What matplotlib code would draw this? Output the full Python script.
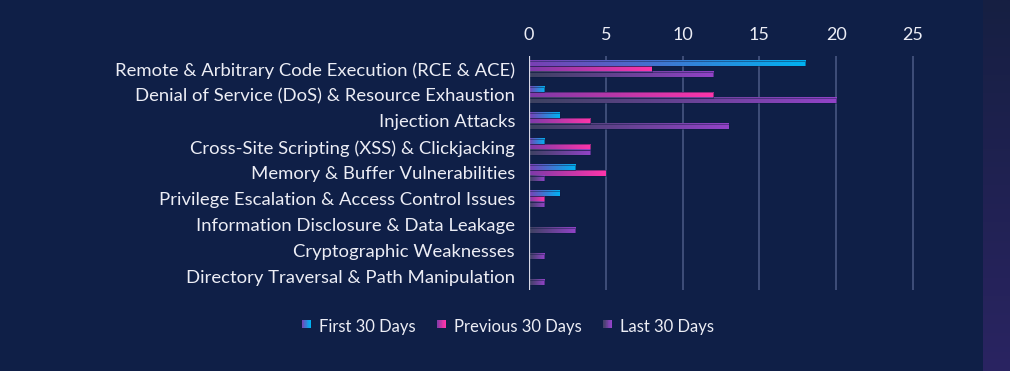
import matplotlib
matplotlib.use('Agg')
import matplotlib.pyplot as plt
import numpy as np
from matplotlib.colors import LinearSegmentedColormap
from matplotlib.legend_handler import HandlerBase
from matplotlib.patches import Rectangle

categories = [
    'Remote & Arbitrary Code Execution (RCE & ACE)',
    'Denial of Service (DoS) & Resource Exhaustion',
    'Injection Attacks',
    'Cross-Site Scripting (XSS) & Clickjacking',
    'Memory & Buffer Vulnerabilities',
    'Privilege Escalation & Access Control Issues',
    'Information Disclosure & Data Leakage',
    'Cryptographic Weaknesses',
    'Directory Traversal & Path Manipulation',
]
first_30 = [18, 1, 2, 1, 3, 2, 0, 0, 0]
previous_30 = [8, 12, 4, 4, 5, 1, 0, 0, 0]
last_30 = [12, 20, 13, 4, 1, 1, 3, 1, 1]
series_names = ['First 30 Days', 'Previous 30 Days', 'Last 30 Days']
x_ticks = [0, 5, 10, 15, 20, 25]

bg = '#0f1f47'
txt = '#ecedf5'
# gradient start -> end for each series
grads = [('#7a3fb4', '#00b2f2'),
         ('#7c3aa8', '#ff35aa'),
         ('#3c4160', '#9243c8')]
cmaps = [LinearSegmentedColormap.from_list('g%d' % i, g) for i, g in enumerate(grads)]
ramp = np.linspace(0, 1, 256).reshape(1, -1)

plt.rcParams['font.family'] = ['Lato', 'DejaVu Sans']

fig = plt.figure(figsize=(10.1, 3.71), dpi=100)
fig.patch.set_facecolor(bg)

# darker strip on the right edge
strip = fig.add_axes([983 / 1010, 0, 27 / 1010, 1])
strip.imshow(np.linspace(0, 1, 256).reshape(-1, 1),
             cmap=LinearSegmentedColormap.from_list('s', ['#161f42', '#2a2462']),
             aspect='auto', extent=(0, 1, 1, 0))
strip.axis('off')

xmax = 25.2
ax = fig.add_axes([529 / 1010, 1 - 290 / 371, 384 / 1010 * xmax / 25, 234 / 371])
ax.set_facecolor(bg)

h = 0.215
offsets = [-h, 0, h]
for s, vals in enumerate([first_30, previous_30, last_30]):
    for i, v in enumerate(vals):
        if v <= 0:
            continue
        y0 = i + offsets[s] - h / 2
        ax.imshow(ramp, cmap=cmaps[s], aspect='auto',
                  extent=(0, v, y0 + h, y0), zorder=3, interpolation='bilinear')
        ax.add_patch(Rectangle((0, y0), v, h, fill=False,
                               edgecolor=(0.05, 0.1, 0.25, 0.5), lw=0.6, zorder=4))

ax.set_xlim(0, xmax)
ax.set_ylim(len(categories) - 0.5, -0.5)
ax.set_xticks(x_ticks)
ax.xaxis.tick_top()
ax.tick_params(axis='x', length=0, pad=9, labelsize=13, labelcolor=txt)
ax.set_yticks(range(len(categories)))
ax.set_yticklabels(categories)
ax.tick_params(axis='y', length=0, pad=10, labelsize=13.3, labelcolor=txt)
ax.grid(axis='x', color='#4c5a86', lw=1.1, zorder=1)
ax.set_axisbelow(True)
for sp in ax.spines.values():
    sp.set_visible(False)
ax.axvline(0, color='#d8d9e6', lw=1.6, zorder=5)


class GradHandler(HandlerBase):
    def __init__(self, cmap):
        super().__init__()
        self.cmap = cmap

    def create_artists(self, legend, orig, xd, yd, width, height, fontsize, trans):
        n = 12
        size = height * 0.75
        x0 = xd + width - size
        arts = []
        for k in range(n):
            r = Rectangle((x0 + k * size / n, yd + (height - size) / 2 + 1.5), size / n + 0.3, size,
                          facecolor=self.cmap(k / (n - 1)), edgecolor='none', transform=trans)
            arts.append(r)
        return arts


handles = [Rectangle((0, 0), 1, 1) for _ in series_names]
leg = fig.legend(handles, series_names, loc='center', bbox_to_anchor=(507 / 1010, 1 - 327 / 371),
                 ncol=3, frameon=False, fontsize=12, labelcolor=txt,
                 handler_map={handles[i]: GradHandler(cmaps[i]) for i in range(3)},
                 handlelength=0.6, handletextpad=0.5, columnspacing=1.2)

fig.savefig('out.png', dpi=100, facecolor=bg)
